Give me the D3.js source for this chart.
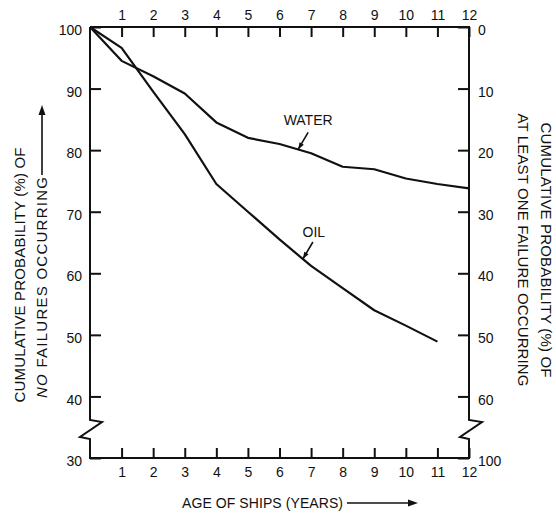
<!DOCTYPE html>
<html>
<head>
<meta charset="utf-8">
<script src="https://cdn.jsdelivr.net/npm/d3@7"></script>
<style>
  body { margin: 0; background: #fff; }
  svg text { font-family: "Liberation Sans", Arial, sans-serif; fill: #111; }
</style>
</head>
<body>
<div id="chart"></div>
<script>
// data
var ages = [0, 1, 2, 3, 4, 5, 6, 7, 8, 9, 10, 11, 12];
var water = [100, 94.5, 92.0, 89.2, 84.5, 82.0, 81.0, 79.5, 77.3, 76.9, 75.4, 74.5, 73.8];
var oil = [100, 96.6, 89.5, 82.6, 74.5, 70.0, 65.5, 61.2, 57.6, 54.0, 51.5, 48.9, null];
var yearTicks = [1, 2, 3, 4, 5, 6, 7, 8, 9, 10, 11, 12];
var leftTicks = [30, 40, 50, 60, 70, 80, 90, 100];
var rightLabels = [100, 60, 50, 40, 30, 20, 10, 0];

var w = 556, h = 516;
var ink = "#111";

var svg = d3.select("#chart")
    .append("svg")
    .attr("width", w)
    .attr("height", h);

var x = d3.scaleLinear().domain([0, 12]).range([90, 469]);
var y = d3.scaleLinear().domain([30, 100]).range([458, 27]);

function styleAxis(g) {
    g.select(".domain").remove();
    g.selectAll(".tick line").attr("stroke", ink).attr("stroke-width", 2);
    g.selectAll(".tick text").attr("font-size", 14).attr("fill", ink);
}

// left axis
svg.append("g")
    .attr("transform", "translate(" + x(0) + ",0)")
    .call(d3.axisLeft(y).tickValues(leftTicks).tickSizeInner(-11).tickSizeOuter(0).tickPadding(8))
    .call(styleAxis)
    .selectAll(".tick text").attr("dy", "0.55em");

// right axis
svg.append("g")
    .attr("transform", "translate(" + x(12) + ",0)")
    .call(d3.axisRight(y).tickValues(leftTicks).tickSizeInner(-11).tickSizeOuter(0).tickPadding(9)
        .tickFormat(function(d, i) { return rightLabels[i]; }))
    .call(styleAxis)
    .selectAll(".tick text").attr("dy", "0.55em");

// top axis
svg.append("g")
    .attr("transform", "translate(0," + y(100) + ")")
    .call(d3.axisTop(x).tickValues(yearTicks).tickSizeInner(-10).tickSizeOuter(0).tickPadding(7))
    .call(styleAxis);

// bottom axis
svg.append("g")
    .attr("transform", "translate(0," + y(30) + ")")
    .call(d3.axisBottom(x).tickValues(yearTicks).tickSizeInner(-10).tickSizeOuter(0).tickPadding(9))
    .call(styleAxis);

// frame with broken vertical axes
var x0 = x(0), x1 = x(12), yt = y(100), yb = y(30), br = 420;
var frame = [
    [x0, yt], [x1, yt], [x1, br], [x1 + 13, br + 2], [x1 - 9, br + 17], [x1, br + 19], [x1, yb],
    [x0, yb], [x0, br + 19], [x0 - 10, br + 17], [x0 + 12, br + 2], [x0, br], [x0, yt]
];
svg.append("path")
    .attr("d", d3.line()(frame))
    .attr("fill", "none")
    .attr("stroke", ink)
    .attr("stroke-width", 2)
    .attr("stroke-linejoin", "miter");

// curves
var line = d3.line()
    .defined(function(d) { return d[1] !== null; })
    .x(function(d) { return x(d[0]); })
    .y(function(d) { return y(d[1]); });

[water, oil].forEach(function(series) {
    svg.append("path")
        .datum(ages.map(function(a, i) { return [a, series[i]]; }))
        .attr("d", line)
        .attr("fill", "none")
        .attr("stroke", ink)
        .attr("stroke-width", 2.2)
        .attr("stroke-linejoin", "round");
});

function valueAt(series, t) {
    var i = Math.floor(t), f = t - i;
    return series[i] + (series[i + 1] - series[i]) * f;
}

function arrowHead(tipX, tipY, fromX, fromY, len, wid) {
    var a = Math.atan2(tipY - fromY, tipX - fromX);
    var bx = tipX - len * Math.cos(a), by = tipY - len * Math.sin(a);
    var px = -Math.sin(a) * wid / 2, py = Math.cos(a) * wid / 2;
    svg.append("path")
        .attr("d", d3.line()([[tipX, tipY], [bx + px, by + py], [bx - px, by - py]]) + "Z")
        .attr("fill", ink);
}

function pointer(label, series, t, lx, ly) {
    var tx = x(t), ty = y(valueAt(series, t));
    var sx = tx + 10, sy = ty - 17;
    svg.append("line")
        .attr("x1", sx).attr("y1", sy).attr("x2", tx).attr("y2", ty)
        .attr("stroke", ink).attr("stroke-width", 1.6);
    arrowHead(tx, ty, sx, sy, 7, 5);
    svg.append("text")
        .attr("x", tx + lx).attr("y", ty + ly)
        .attr("font-size", 14)
        .attr("text-anchor", "middle")
        .text(label);
}

pointer("WATER", water, 6.59, 10, -24);
pointer("OIL", oil, 6.74, 11, -22);

// left title
var lt = svg.append("g").attr("transform", "translate(20,275) rotate(-90)");
lt.append("text")
    .attr("text-anchor", "middle")
    .attr("dy", "0.35em")
    .attr("font-size", 15)
    .attr("textLength", 255)
    .text("CUMULATIVE PROBABILITY (%) OF");

var lt2 = svg.append("g").attr("transform", "translate(42,398) rotate(-90)");
var t2 = lt2.append("text")
    .attr("dy", "0.35em")
    .attr("font-size", 15)
    .attr("textLength", 221);
t2.append("tspan").attr("font-style", "italic").text("NO");
t2.append("tspan").text(" FAILURES OCCURRING");
lt2.append("line")
    .attr("x1", 223).attr("y1", 0).attr("x2", 286).attr("y2", 0)
    .attr("stroke", ink).attr("stroke-width", 1.6);
lt2.append("path")
    .attr("d", "M293,0L283,-3.5L283,3.5Z")
    .attr("fill", ink);

// right title
var rt = svg.append("g").attr("transform", "translate(546,250) rotate(90)");
rt.append("text")
    .attr("text-anchor", "middle")
    .attr("dy", "0.35em")
    .attr("font-size", 15)
    .attr("textLength", 255)
    .text("CUMULATIVE PROBABILITY (%) OF");
rt.append("text")
    .attr("text-anchor", "middle")
    .attr("y", 23)
    .attr("dy", "0.35em")
    .attr("font-size", 15)
    .attr("textLength", 273)
    .text("AT LEAST ONE FAILURE OCCURRING");

// bottom title
svg.append("text")
    .attr("x", 182).attr("y", 503)
    .attr("dy", "0.35em")
    .attr("font-size", 14)
    .attr("textLength", 161)
    .text("AGE OF SHIPS (YEARS)");
svg.append("line")
    .attr("x1", 347).attr("y1", 503).attr("x2", 410).attr("y2", 503)
    .attr("stroke", ink).attr("stroke-width", 1.6);
svg.append("path")
    .attr("d", "M418,503L408,499.5L408,506.5Z")
    .attr("fill", ink);
</script>
</body>
</html>
